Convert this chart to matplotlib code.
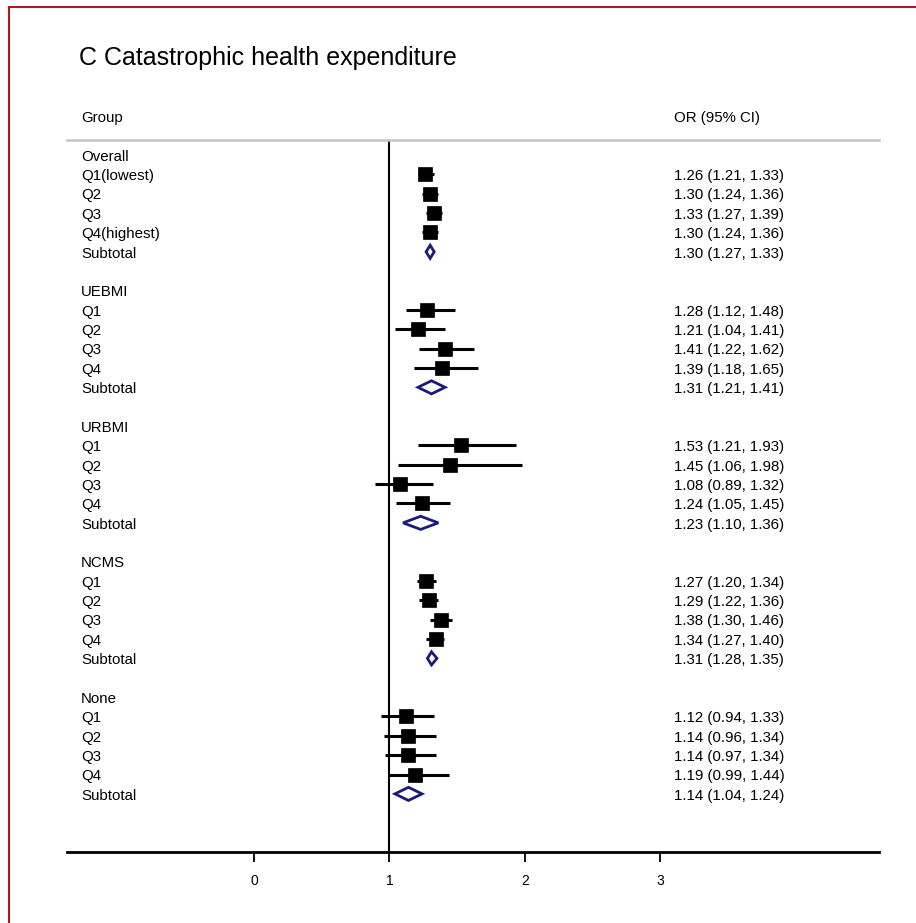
import matplotlib
matplotlib.use("Agg")
import matplotlib.pyplot as plt
import matplotlib.patches as mpatches
from matplotlib.transforms import blended_transform_factory
from matplotlib.path import Path

plt.rcParams['font.family'] = ['Liberation Sans', 'DejaVu Sans']

title = "C Catastrophic health expenditure"
groups = ["Overall", "UEBMI", "URBMI", "NCMS", "None"]
row_labels = {
    "Overall": ["Q1(lowest)", "Q2", "Q3", "Q4(highest)", "Subtotal"],
    "UEBMI": ["Q1", "Q2", "Q3", "Q4", "Subtotal"],
    "URBMI": ["Q1", "Q2", "Q3", "Q4", "Subtotal"],
    "NCMS": ["Q1", "Q2", "Q3", "Q4", "Subtotal"],
    "None": ["Q1", "Q2", "Q3", "Q4", "Subtotal"],
}
or_est = {
    "Overall": [1.26, 1.30, 1.33, 1.30, 1.30],
    "UEBMI": [1.28, 1.21, 1.41, 1.39, 1.31],
    "URBMI": [1.53, 1.45, 1.08, 1.24, 1.23],
    "NCMS": [1.27, 1.29, 1.38, 1.34, 1.31],
    "None": [1.12, 1.14, 1.14, 1.19, 1.14],
}
ci_low = {
    "Overall": [1.21, 1.24, 1.27, 1.24, 1.27],
    "UEBMI": [1.12, 1.04, 1.22, 1.18, 1.21],
    "URBMI": [1.21, 1.06, 0.89, 1.05, 1.10],
    "NCMS": [1.20, 1.22, 1.30, 1.27, 1.28],
    "None": [0.94, 0.96, 0.97, 0.99, 1.04],
}
ci_high = {
    "Overall": [1.33, 1.36, 1.39, 1.36, 1.33],
    "UEBMI": [1.48, 1.41, 1.62, 1.65, 1.41],
    "URBMI": [1.93, 1.98, 1.32, 1.45, 1.36],
    "NCMS": [1.34, 1.36, 1.46, 1.40, 1.35],
    "None": [1.33, 1.34, 1.34, 1.44, 1.24],
}
xticks = [0, 1, 2, 3]

W, H = 916, 923
fig = plt.figure(figsize=(W / 100, H / 100), dpi=100)

# red frame
fig.patches.append(mpatches.Rectangle((9 / W, -0.1), 1.2, 1 - 7 / H + 0.1,
                                      transform=fig.transFigure, fill=False,
                                      edgecolor='#b0181c', linewidth=1.5))

ax_l, ax_r = 67, 879
ax_t, ax_b = 140, 852
ax = fig.add_axes([ax_l / W, 1 - ax_b / H, (ax_r - ax_l) / W, (ax_b - ax_t) / H])
ax.set_facecolor('none')

x0_px, px_per_unit = 254, 135.5
ax.set_xlim((ax_l - x0_px) / px_per_unit, (ax_r - x0_px) / px_per_unit)
row0_px, row_step = 155, 19.36
ax.set_ylim((ax_b - row0_px) / row_step, (ax_t - row0_px) / row_step)

for s in ['left', 'right']:
    ax.spines[s].set_visible(False)
ax.spines['top'].set_color('#c4c4c4')
ax.spines['top'].set_linewidth(1.8)
ax.spines['bottom'].set_color('black')
ax.spines['bottom'].set_linewidth(2.0)

ax.set_yticks([])
ax.set_xticks(xticks)
ax.set_xticklabels([str(t) for t in xticks], fontsize=10)
ax.tick_params(axis='x', length=7, width=1.3, pad=9, colors='black')

ax.axvline(1, color='black', linewidth=1.5, zorder=1)

trans_lab = blended_transform_factory(fig.transFigure, ax.transData)
fs = 10.8
toff = 0.09
row = 0
for g in groups:
    ax.text(81 / W, row + toff, g, transform=trans_lab, fontsize=fs, va='center', ha='left')
    row += 1
    for i, lab in enumerate(row_labels[g]):
        est, lo, hi = or_est[g][i], ci_low[g][i], ci_high[g][i]
        ax.text(81 / W, row + toff, lab, transform=trans_lab, fontsize=fs, va='center', ha='left')
        ax.text(674 / W, row + toff, f"{est:.2f} ({lo:.2f}, {hi:.2f})", transform=trans_lab,
                fontsize=fs, va='center', ha='left')
        if lab == "Subtotal":
            hh = 0.34
            verts = [(lo, row), (est, row - hh), (hi, row), (est, row + hh), (lo, row)]
            codes = [Path.MOVETO, Path.LINETO, Path.LINETO, Path.LINETO, Path.CLOSEPOLY]
            ax.add_patch(mpatches.PathPatch(Path(verts, codes), facecolor='white',
                                            edgecolor='#1a1a78', linewidth=2.0, zorder=3))
        else:
            ax.plot([lo, hi], [row, row], color='black', linewidth=2.2, zorder=2,
                    solid_capstyle='butt')
            ax.plot([est], [row], marker='s', markersize=10, markeredgewidth=0.5,
                    color='black', zorder=3)
        row += 1
    row += 1

fig.text(79 / W, 1 - 58.5 / H, title, fontsize=18, va='center', ha='left')
fig.text(81 / W, 1 - 118 / H, "Group", fontsize=fs, va='center', ha='left')
fig.text(674 / W, 1 - 118 / H, "OR (95% CI)", fontsize=fs, va='center', ha='left')

fig.savefig("out.png", dpi=100)
